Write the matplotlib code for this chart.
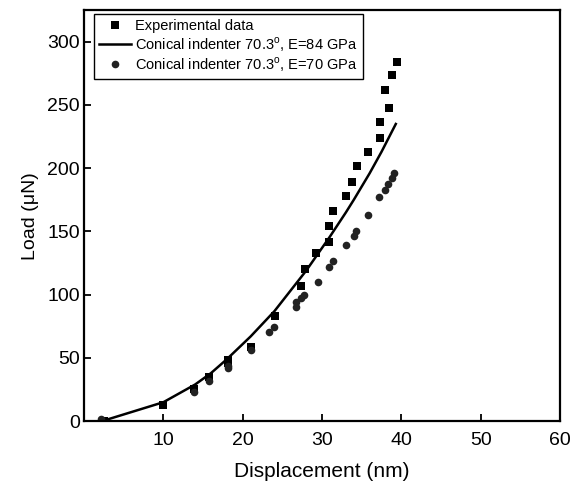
import matplotlib
matplotlib.use("Agg")
import matplotlib.pyplot as plt

plt.rcParams["font.family"] = ["Liberation Sans", "DejaVu Sans"]

# Experimental data (squares)
exp_x = [2.5, 10, 13.8, 15.8, 18.1, 18.1, 21, 24.1, 27.3, 27.9, 29.3, 30.9, 30.9,
         31.4, 33, 33.8, 34.4, 35.8, 37.3, 37.3, 38.4, 37.9, 38.8, 39.4]
exp_y = [0.5, 13, 25.5, 35, 48, 46, 59, 83, 107, 120, 133, 142, 154,
         166, 178, 189.5, 202, 213, 224, 236.5, 248, 261.5, 274, 283.7]

# Conical indenter, E=84 GPa (line)
e84_x = [2.5, 10, 14, 16, 18, 21, 24, 27, 28, 30, 31, 33, 34, 36, 37.5, 39.3]
e84_y = [0.5, 15, 29, 38, 49, 67, 87, 111, 119, 137, 146, 165, 175, 196, 213, 235]

# Conical indenter, E=70 GPa (circles)
e70_x = [2.1, 13.8, 15.8, 18.1, 18.1, 21, 23.3, 24, 26.7, 26.7, 27.4, 27.7, 29.5,
         30.9, 31.4, 33, 34, 34.3, 35.8, 37.2, 37.9, 38.3, 38.8, 39.1]
e70_y = [2, 23, 32, 42, 44, 56, 70.7, 74.7, 90.5, 94.5, 97, 100, 110,
         121.7, 127, 139, 146.5, 150, 163, 177, 183, 187.6, 192, 196]

fig = plt.figure(figsize=(5.72, 4.83), dpi=100)
ax = fig.add_axes([0.147, 0.128, 0.832, 0.851])

ax.plot(exp_x, exp_y, "s", color="black", ms=6, mew=0,
        label="Experimental data")
ax.plot(e84_x, e84_y, "-", color="black", lw=1.8,
        label=r"Conical indenter 70.3$^\mathregular{o}$, E=84 GPa")
ax.plot(e70_x, e70_y, "o", color="#222222", ms=5.5, mew=0,
        label=r"Conical indenter 70.3$^\mathregular{o}$, E=70 GPa")

ax.set_xlim(0, 60)
ax.set_ylim(0, 325)
ax.set_xticks([10, 20, 30, 40, 50, 60])
ax.set_yticks([0, 50, 100, 150, 200, 250, 300])
ax.tick_params(direction="in", length=5, width=1.3, labelsize=14)
ax.tick_params(axis="x", pad=8)
ax.tick_params(axis="y", pad=3)
for s in ax.spines.values():
    s.set_linewidth(1.6)

ax.set_xlabel("Displacement (nm)", fontsize=15, labelpad=9)
ax.set_ylabel("Load (\u03bcN)", fontsize=14, labelpad=6)

leg = ax.legend(loc="upper left", bbox_to_anchor=(0.02, 0.99), borderaxespad=0,
                fontsize=10.5, fancybox=False, edgecolor="black", framealpha=1,
                handlelength=2.2, handletextpad=0.3, labelspacing=0.1,
                borderpad=0.35)
leg.get_frame().set_linewidth(1.0)

fig.savefig("out.png", dpi=100)
